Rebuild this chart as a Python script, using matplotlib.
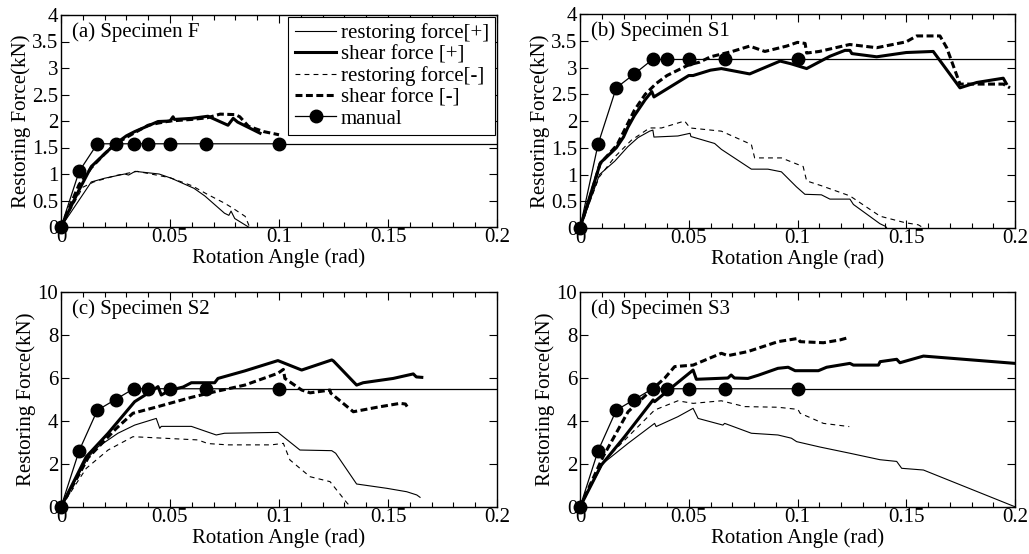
import matplotlib
matplotlib.use("Agg")
import matplotlib.pyplot as plt
from matplotlib.ticker import MultipleLocator, FuncFormatter

plt.rcParams['font.family'] = ['Liberation Serif', 'DejaVu Serif']
plt.rcParams['lines.scale_dashes'] = False

# ---------------- data ----------------
drift_x = [0, 1/120, 1/60, 1/40, 1/30, 1/25, 1/20, 1/15, 1/10]

# (a) Specimen F
a_rp_x = [0, 0.0139, 0.02, 0.0292, 0.031, 0.034, 0.045, 0.0506, 0.061, 0.066, 0.075, 0.077, 0.078, 0.0797, 0.086]
a_rp_y = [0, 0.85, 0.92, 1.0, 0.98, 1.05, 1.0, 0.92, 0.73, 0.585, 0.26, 0.22, 0.3, 0.16, 0.0]
a_sp_x = [0, 0.0083, 0.0139, 0.02, 0.025, 0.03, 0.0338, 0.0445, 0.05, 0.0514, 0.052, 0.06, 0.0674, 0.0766, 0.079, 0.081, 0.0913]
a_sp_y = [0, 0.7, 1.14, 1.38, 1.57, 1.72, 1.80, 1.99, 2.0, 2.08, 2.03, 2.05, 2.09, 1.92, 2.05, 1.98, 1.77]
a_rm_x = [0, 0.01, 0.015, 0.025, 0.035, 0.05, 0.06, 0.067, 0.075, 0.079, 0.0845, 0.0865]
a_rm_y = [0, 0.75, 0.85, 0.97, 1.05, 0.93, 0.78, 0.62, 0.45, 0.35, 0.2, 0.0]
a_sm_x = [0, 0.0083, 0.0139, 0.02, 0.025, 0.0338, 0.04, 0.0445, 0.05, 0.06, 0.067, 0.073, 0.08, 0.082, 0.086, 0.093, 0.1]
a_sm_y = [0, 0.8, 1.12, 1.38, 1.57, 1.78, 1.92, 1.96, 2.0, 2.03, 2.06, 2.13, 2.12, 2.08, 1.9, 1.8, 1.74]
a_man_y = [0, 1.05, 1.57, 1.57, 1.57, 1.57, 1.57, 1.57, 1.57]

# (b) Specimen S1
b_rp_x = [0, 0.009, 0.016, 0.022, 0.0267, 0.032, 0.0335, 0.034, 0.045, 0.0506, 0.051, 0.0619, 0.065, 0.0788, 0.0864, 0.0926, 0.0995, 0.1034, 0.111, 0.1149, 0.1241, 0.1257, 0.1379, 0.1405, 0.141]
b_rp_y = [0, 1.0, 1.25, 1.52, 1.69, 1.81, 1.83, 1.70, 1.72, 1.77, 1.71, 1.58, 1.47, 1.10, 1.1, 1.05, 0.77, 0.63, 0.62, 0.54, 0.54, 0.44, 0.08, 0.03, 0.0]
b_sp_x = [0, 0.0094, 0.0144, 0.0167, 0.02, 0.022, 0.025, 0.03, 0.033, 0.034, 0.04, 0.05, 0.052, 0.06, 0.065, 0.078, 0.085, 0.092, 0.097, 0.1042, 0.1149, 0.1218, 0.1241, 0.125, 0.1364, 0.15, 0.1624, 0.1747, 0.1824, 0.1946, 0.196]
b_sp_y = [0, 1.22, 1.41, 1.5, 1.7, 1.88, 2.1, 2.4, 2.55, 2.45, 2.6, 2.85, 2.85, 2.95, 2.98, 2.88, 3.0, 3.12, 3.07, 2.98, 3.21, 3.32, 3.32, 3.26, 3.20, 3.28, 3.30, 2.62, 2.72, 2.80, 2.7]
b_rm_x = [0, 0.0088, 0.016, 0.0236, 0.032, 0.0375, 0.0481, 0.0506, 0.065, 0.0711, 0.0788, 0.0803, 0.0926, 0.1, 0.1026, 0.1042, 0.111, 0.1241, 0.138, 0.1494, 0.1555, 0.158]
b_rm_y = [0, 0.95, 1.33, 1.64, 1.87, 1.87, 2.0, 1.87, 1.81, 1.70, 1.56, 1.31, 1.31, 1.19, 1.15, 0.88, 0.79, 0.60, 0.22, 0.10, 0.06, 0.0]
b_sm_x = [0, 0.0046, 0.0092, 0.017, 0.025, 0.03, 0.035, 0.04, 0.05, 0.055, 0.06, 0.065, 0.07, 0.078, 0.085, 0.09, 0.095, 0.1, 0.1035, 0.1042, 0.11, 0.124, 0.1364, 0.15, 0.1548, 0.1655, 0.1686, 0.1747, 0.1946, 0.1977]
b_sm_y = [0, 0.57, 1.2, 1.55, 2.2, 2.5, 2.7, 2.85, 3.05, 3.1, 3.2, 3.25, 3.3, 3.4, 3.3, 3.35, 3.4, 3.47, 3.45, 3.27, 3.3, 3.43, 3.37, 3.48, 3.59, 3.59, 3.37, 2.69, 2.69, 2.62]
b_man_y = [0, 1.57, 2.62, 2.88, 3.15, 3.15, 3.15, 3.15, 3.15]

# (c) Specimen S2
c_rp_x = [0, 0.0124, 0.017, 0.0261, 0.0338, 0.0437, 0.0453, 0.046, 0.0598, 0.0712, 0.075, 0.0995, 0.1096, 0.1242, 0.126, 0.1356, 0.1494, 0.1586, 0.1632, 0.1647]
c_rp_y = [0, 2.3, 2.8, 3.43, 3.81, 4.12, 3.66, 3.75, 3.75, 3.35, 3.43, 3.47, 2.65, 2.62, 2.5, 1.07, 0.87, 0.71, 0.56, 0.45]
c_sp_x = [0, 0.0116, 0.0216, 0.0338, 0.043, 0.0445, 0.046, 0.05, 0.056, 0.0598, 0.0705, 0.072, 0.0843, 0.0995, 0.1104, 0.1242, 0.125, 0.1356, 0.1386, 0.1524, 0.1616, 0.163, 0.1655]
c_sp_y = [0, 2.34, 3.43, 4.9, 5.49, 5.6, 5.21, 5.43, 5.58, 5.78, 5.78, 5.98, 6.33, 6.81, 6.37, 6.84, 6.79, 5.67, 5.78, 5.98, 6.19, 6.05, 6.03]
c_rm_x = [0, 0.0116, 0.0216, 0.033, 0.047, 0.0628, 0.0674, 0.0766, 0.0965, 0.102, 0.105, 0.1142, 0.1234, 0.1311, 0.132]
c_rm_y = [0, 1.8, 2.65, 3.27, 3.2, 3.12, 2.95, 2.89, 2.89, 2.96, 2.19, 1.41, 1.18, 0.2, 0.1]
c_sm_x = [0, 0.0125, 0.0254, 0.033, 0.0445, 0.0598, 0.0705, 0.0843, 0.0995, 0.102, 0.1027, 0.1104, 0.1143, 0.1234, 0.1237, 0.1341, 0.145, 0.1555, 0.158, 0.1593]
c_sm_y = [0, 2.3, 3.66, 4.36, 4.67, 5.10, 5.36, 5.67, 6.22, 6.4, 5.98, 5.44, 5.31, 5.44, 5.3, 4.43, 4.64, 4.82, 4.79, 4.59]
c_man_y = [0, 2.62, 4.5, 5.0, 5.5, 5.5, 5.5, 5.5, 5.5]

# (d) Specimen S3
d_rp_x = [0, 0.0106, 0.0221, 0.0343, 0.035, 0.045, 0.052, 0.0543, 0.0657, 0.0665, 0.0788, 0.091, 0.0972, 0.0996, 0.1103, 0.1241, 0.1379, 0.1456, 0.1479, 0.1579, 0.2]
d_rp_y = [0, 2.03, 2.96, 3.89, 3.74, 4.2, 4.59, 4.12, 3.81, 3.89, 3.43, 3.35, 3.2, 3.04, 2.79, 2.5, 2.2, 2.12, 1.8, 1.72, 0.01]
d_sp_x = [0, 0.0098, 0.0205, 0.0336, 0.0343, 0.0435, 0.052, 0.0535, 0.068, 0.0695, 0.071, 0.0772, 0.082, 0.091, 0.0957, 0.0989, 0.1096, 0.1134, 0.1241, 0.1257, 0.1372, 0.138, 0.1456, 0.1471, 0.1579, 0.2]
d_sp_y = [0, 1.95, 3.27, 4.98, 4.9, 5.67, 6.37, 5.94, 6.0, 6.14, 6.0, 5.98, 6.13, 6.45, 6.5, 6.34, 6.34, 6.5, 6.68, 6.6, 6.6, 6.76, 6.87, 6.71, 7.02, 6.68]
d_rm_x = [0, 0.0106, 0.0221, 0.0343, 0.045, 0.052, 0.065, 0.0757, 0.091, 0.1002, 0.1012, 0.1119, 0.1238]
d_rm_y = [0, 2.1, 3.27, 4.51, 4.94, 4.82, 4.94, 4.67, 4.64, 4.54, 4.36, 3.89, 3.74]
d_sm_x = [0, 0.0106, 0.0221, 0.0328, 0.039, 0.0435, 0.052, 0.065, 0.068, 0.0772, 0.091, 0.1002, 0.1012, 0.1119, 0.1195, 0.1238]
d_sm_y = [0, 2.34, 4.43, 5.44, 6.0, 6.53, 6.6, 7.15, 7.04, 7.23, 7.69, 7.84, 7.69, 7.64, 7.77, 7.89]
d_man_y = [0, 2.62, 4.5, 5.0, 5.5, 5.5, 5.5, 5.5, 5.5]

titles = ["(a) Specimen F", "(b) Specimen S1", "(c) Specimen S2", "(d) Specimen S3"]
legend_labels = ["restoring force[+]", "shear force [+]", "restoring force[-]", "shear force [-]", "manual"]
x_label = "Rotation Angle (rad)"
y_label = "Restoring Force(kN)"

# ---------------- figure ----------------
W, H = 1029, 554
fig = plt.figure(figsize=(W / 100, H / 100), dpi=100)

def frac(l, t, r, b):
    return [l / W, 1 - b / H, (r - l) / W, (b - t) / H]

boxes = [frac(61, 15, 497, 227), frac(580, 14, 1015, 228),
         frac(61, 292, 497, 507), frac(580, 292, 1015, 507)]
ymax = [4, 4, 10, 10]
ystep = [0.5, 0.5, 2, 2]

panels = [
    (a_rp_x, a_rp_y, a_sp_x, a_sp_y, a_rm_x, a_rm_y, a_sm_x, a_sm_y, a_man_y),
    (b_rp_x, b_rp_y, b_sp_x, b_sp_y, b_rm_x, b_rm_y, b_sm_x, b_sm_y, b_man_y),
    (c_rp_x, c_rp_y, c_sp_x, c_sp_y, c_rm_x, c_rm_y, c_sm_x, c_sm_y, c_man_y),
    (d_rp_x, d_rp_y, d_sp_x, d_sp_y, d_rm_x, d_rm_y, d_sm_x, d_sm_y, d_man_y),
]

FS = 15
thin, thick = 0.8, 2.2

def fmt(v, pos):
    return ("%.2f" % v).rstrip('0').rstrip('.')

for i, (box, data) in enumerate(zip(boxes, panels)):
    ax = fig.add_axes(box)
    rpx, rpy, spx, spy, rmx, rmy, smx, smy, many = data
    ax.plot(rpx, rpy, color='black', lw=thin, ls='-', label=legend_labels[0])
    ax.plot(spx, spy, color='black', lw=thick, ls='-', label=legend_labels[1])
    ax.plot(rmx, rmy, color='black', lw=thin, ls=(0, (3.5, 3)), label=legend_labels[2])
    ax.plot(smx, smy, color='black', lw=thick, ls=(0, (5, 2.5)), label=legend_labels[3])
    ax.plot(drift_x, many, color='black', lw=0.9, marker='o', ms=9,
            label=legend_labels[4], clip_on=False, zorder=5)
    # plateau line continued to the right edge
    ax.plot([drift_x[-1], 0.2], [many[-1], many[-1]], color='black', lw=0.9, zorder=5)

    ax.set_xlim(0, 0.2)
    ax.set_ylim(0, ymax[i])
    ax.xaxis.set_major_locator(MultipleLocator(0.05))
    ax.xaxis.set_minor_locator(MultipleLocator(0.01))
    ax.yaxis.set_major_locator(MultipleLocator(ystep[i]))
    ax.xaxis.set_major_formatter(FuncFormatter(fmt))
    ax.yaxis.set_major_formatter(FuncFormatter(fmt))
    ax.tick_params(which='both', direction='in', top=True, right=True,
                   labelsize=FS, width=0.8)
    ax.tick_params(axis='x', pad=1)
    ax.tick_params(axis='y', pad=2)
    ax.tick_params(which='major', length=6)
    ax.tick_params(which='minor', length=3.5)
    for sp in ax.spines.values():
        sp.set_linewidth(1.0)
    ax.set_xlabel(x_label, fontsize=FS, labelpad=0.5)
    ax.set_ylabel(y_label, fontsize=FS, labelpad=1)
    ax.text(0.025, 0.965, titles[i], transform=ax.transAxes, fontsize=FS,
            ha='left', va='top')
    if i == 0:
        leg = ax.legend(loc='upper right', fontsize=FS, frameon=True, fancybox=False,
                        edgecolor='black', framealpha=1, handlelength=2.0,
                        labelspacing=0.08, borderpad=0.3, handletextpad=0.2,
                        borderaxespad=0.1)
        leg.get_frame().set_linewidth(0.8)

fig.savefig("out.png", dpi=100)
